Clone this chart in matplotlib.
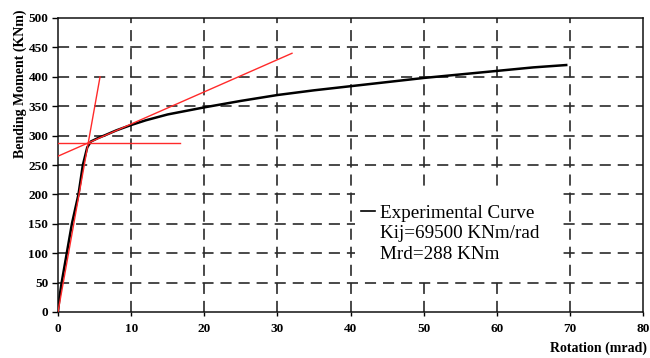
import matplotlib
matplotlib.use("Agg")
import matplotlib.pyplot as plt
from matplotlib.lines import Line2D
from matplotlib.patches import Rectangle

plt.rcParams['font.family'] = ['Liberation Serif', 'DejaVu Serif']
plt.rcParams['lines.scale_dashes'] = False

# Experimental moment-rotation curve
rotation = [0, 0.2, 0.5, 1.2, 1.9, 2.8, 3.4, 4.0, 4.5, 5.5, 6.5, 8, 10, 12, 15, 20,
            25, 30, 35, 40, 45, 50, 55, 60, 65, 69.5]
moment = [0, 25, 50, 100, 150, 200, 250, 280, 290, 296, 301, 309, 318, 326, 336, 348,
          359, 369, 377, 384, 391, 398, 404, 410, 416, 420]

# Red construction lines
init_stiff_x = [0, 5.75]
init_stiff_y = [0, 400]
mrd_x = [0, 16.7]
mrd_y = [288, 288]
post_x = [0, 32]
post_y = [265, 440]

x_ticks = [0, 10, 20, 30, 40, 50, 60, 70, 80]
y_ticks = [0, 50, 100, 150, 200, 250, 300, 350, 400, 450, 500]

legend_labels = ["Experimental Curve", "Kij=69500 KNm/rad", "Mrd=288 KNm"]

fig = plt.figure(figsize=(6.5, 3.58), dpi=100)
ax = fig.add_axes([58/650, 1-312/358, 585/650, 294/358])

ax.set_xlim(0, 80)
ax.set_ylim(0, 500)
ax.set_xticks(x_ticks)
ax.set_yticks(y_ticks)

grid_kw = dict(color='#2a2a2a', lw=1.2, linestyle=(0, (8, 5)), zorder=1)
for xv in x_ticks[1:-1]:
    ax.axvline(xv, **grid_kw)
for yv in y_ticks[1:-1]:
    ax.axhline(yv, **grid_kw)

ax.plot(init_stiff_x, init_stiff_y, color='#ff2a2a', lw=1.0, zorder=3)
ax.plot(mrd_x, mrd_y, color='#ff2a2a', lw=1.0, zorder=3)
ax.plot(post_x, post_y, color='#ff2a2a', lw=1.0, zorder=3)
ax.plot(rotation, moment, color='black', lw=1.8, zorder=2)

for s in ax.spines.values():
    s.set_linewidth(1.1)
    s.set_color('#111111')

ax.tick_params(axis='y', direction='out', length=4, width=1.0, pad=3,
               labelsize=9.5)
ax.tick_params(axis='x', direction='out', length=3, width=1.0, pad=5,
               labelsize=9.5)
for lab in ax.get_xticklabels() + ax.get_yticklabels():
    lab.set_fontweight('bold')

fig.text(20/650, 1-84/358, "Bending Moment (KNm)", rotation=90, ha='center',
         va='center', fontsize=10, fontweight='bold')
fig.text(647/650, 1-348/358, "Rotation (mrad)", ha='right', va='center',
         fontsize=10, fontweight='bold')

# white background behind legend (hides grid)
ax.add_patch(Rectangle((0.508, 0.122), 0.347, 0.303, transform=ax.transAxes,
                       facecolor='white', edgecolor='none', zorder=4))

handles = [Line2D([], [], color='black', lw=1.2),
           Line2D([], [], color='none'),
           Line2D([], [], color='none')]
leg = ax.legend(handles, legend_labels, loc='upper left',
                bbox_to_anchor=(0.508, 0.385), borderaxespad=0,
                fontsize=13.8, handlelength=0.73, handletextpad=0.26,
                labelspacing=0.15, borderpad=0.3, frameon=False)
leg.set_zorder(5)

fig.savefig("out.png", dpi=100)
